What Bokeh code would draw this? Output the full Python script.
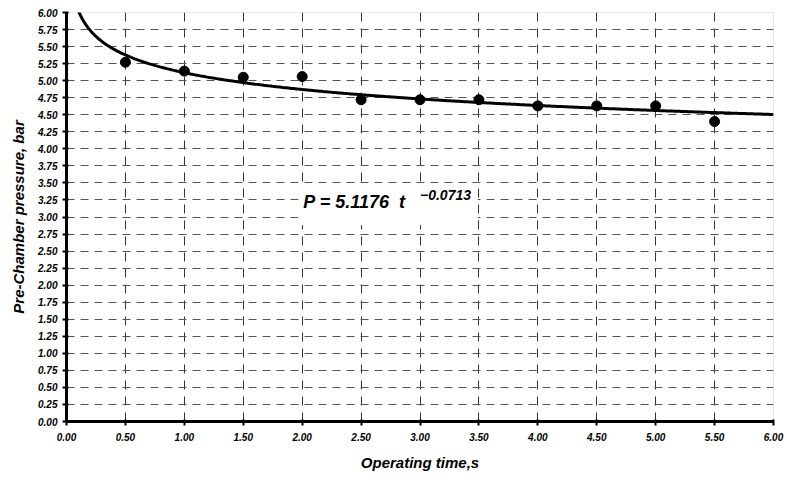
import numpy as np
from bokeh.plotting import figure
from bokeh.models import Range1d, FixedTicker, NumeralTickFormatter, Label, BoxAnnotation
from bokeh.embed import file_html
from bokeh.resources import INLINE

# data
time_s = [0.5, 1.0, 1.5, 2.0, 2.5, 3.0, 3.5, 4.0, 4.5, 5.0, 5.5]
pressure_bar = [5.27, 5.14, 5.05, 5.06, 4.72, 4.72, 4.72, 4.63, 4.63, 4.63, 4.40]

# power trendline shown on the chart: P = a * t^b
fit_a = 5.1176
fit_b = -0.0713

x_ticks = [0.0, 0.5, 1.0, 1.5, 2.0, 2.5, 3.0, 3.5, 4.0, 4.5, 5.0, 5.5, 6.0]
y_ticks = [0.0, 0.25, 0.5, 0.75, 1.0, 1.25, 1.5, 1.75, 2.0, 2.25, 2.5, 2.75, 3.0,
           3.25, 3.5, 3.75, 4.0, 4.25, 4.5, 4.75, 5.0, 5.25, 5.5, 5.75, 6.0]

FONT = "Liberation Sans"

p = figure(width=787, height=484, output_backend="svg", toolbar_location=None,
           x_range=Range1d(0, 6), y_range=Range1d(0, 6),
           min_border_left=66, min_border_right=14, min_border_top=12, min_border_bottom=63)
p.background_fill_color = "white"
p.border_fill_color = "white"
p.outline_line_color = "#e6e6e6"

p.xaxis.ticker = FixedTicker(ticks=x_ticks)
p.yaxis.ticker = FixedTicker(ticks=y_ticks)
p.xaxis.formatter = NumeralTickFormatter(format="0.00")
p.yaxis.formatter = NumeralTickFormatter(format="0.00")
p.xgrid.ticker = FixedTicker(ticks=x_ticks[:-1])
p.ygrid.ticker = FixedTicker(ticks=y_ticks)

for ax in (p.xaxis[0], p.yaxis[0]):
    ax.axis_line_width = 3
    ax.axis_line_color = "black"
    ax.major_tick_line_width = 2
    ax.major_tick_line_color = "black"
    ax.major_tick_out = 4
    ax.major_tick_in = 2
    ax.minor_tick_line_color = None
    ax.major_label_text_font = FONT
    ax.major_label_text_font_style = "bold italic"
    ax.major_label_text_font_size = "10px"
    ax.major_label_text_color = "black"
    ax.axis_label_text_font = FONT
    ax.axis_label_text_font_style = "bold italic"
    ax.axis_label_text_font_size = "15px"
    ax.axis_label_text_color = "black"

p.xaxis.axis_label = "Operating time,s"
p.yaxis.axis_label = "Pre-Chamber pressure, bar"
p.xaxis.major_label_standoff = 7
p.yaxis.major_label_standoff = 5
p.xaxis.axis_label_standoff = 10
p.yaxis.axis_label_standoff = 8

p.xgrid.grid_line_color = "#333333"
p.xgrid.grid_line_dash = "9 7"
p.xgrid.grid_line_width = 1
p.ygrid.grid_line_color = "#555555"
p.ygrid.grid_line_dash = "8 6"
p.ygrid.grid_line_width = 1

# trendline
t = np.linspace(0.09, 6.0, 400)
p.line(t, fit_a * t ** fit_b, line_color="black", line_width=3)

# measured points
p.scatter(time_s, pressure_bar, size=10, fill_color="black", line_color="black")

# equation box
box = BoxAnnotation(left=1.97, right=3.49, bottom=2.88, top=3.42,
                    fill_color="white", fill_alpha=1.0, line_color=None)
p.add_layout(box)
p.add_layout(Label(x=2.01, y=3.22, text=f"P = {fit_a:.4f}\u00a0\u00a0t", text_font=FONT,
                   text_font_style="bold italic", text_font_size="18px",
                   text_color="black", text_baseline="alphabetic"))
p.add_layout(Label(x=3.0, y=3.33, text=f"\u2212{abs(fit_b):.4f}", text_font=FONT,
                   text_font_style="bold italic", text_font_size="14px",
                   text_color="black", text_baseline="alphabetic"))

open("out.html", "w").write(file_html(p, INLINE))
